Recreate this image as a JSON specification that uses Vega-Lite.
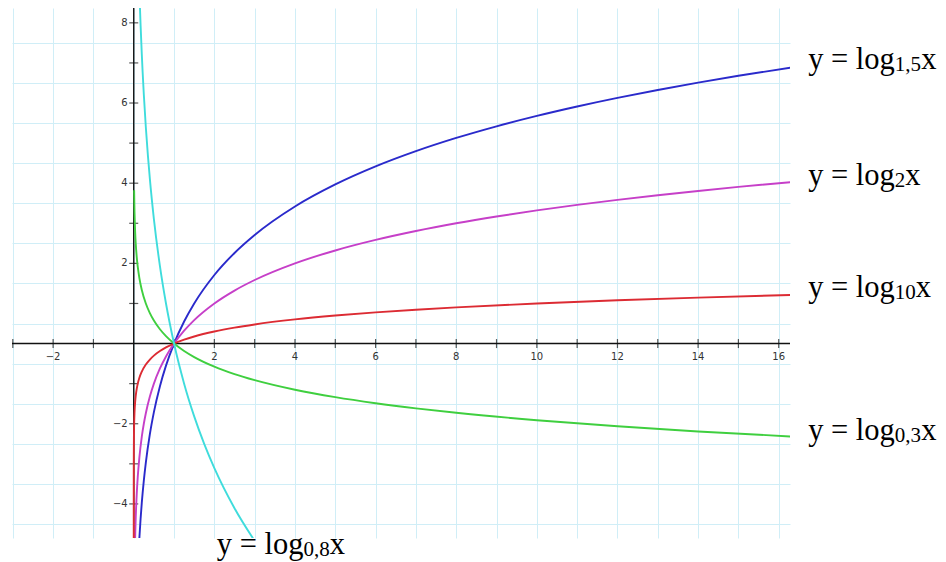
{
  "$schema": "https://vega.github.io/schema/vega-lite/v6.json",
  "width": 778,
  "height": 530,
  "autosize": {"type": "none"},
  "padding": {"left": 12, "top": 8, "right": 156, "bottom": 24},
  "background": "white",
  "config": {"view": {"stroke": null}},
  "datasets": {
    "curves": [
      {"f": "log1.5", "x": 0.1, "y": -5.679}, {"f": "log1.5", "x": 0.12, "y": -5.229}, {"f": "log1.5", "x": 0.14, "y": -4.849}, {"f": "log1.5", "x": 0.17, "y": -4.37}, {"f": "log1.5", "x": 0.2, "y": -3.969}, {"f": "log1.5", "x": 0.25, "y": -3.419}, {"f": "log1.5", "x": 0.3, "y": -2.969}, {"f": "log1.5", "x": 0.4, "y": -2.26}, {"f": "log1.5", "x": 0.5, "y": -1.71}, {"f": "log1.5", "x": 0.65, "y": -1.062}, {"f": "log1.5", "x": 0.8, "y": -0.55}, {"f": "log1.5", "x": 1, "y": 0}, {"f": "log1.5", "x": 1.25, "y": 0.55}, {"f": "log1.5", "x": 1.5, "y": 1.0}, {"f": "log1.5", "x": 2, "y": 1.71}, {"f": "log1.5", "x": 2.5, "y": 2.26}, {"f": "log1.5", "x": 3, "y": 2.709}, {"f": "log1.5", "x": 4, "y": 3.419}, {"f": "log1.5", "x": 5, "y": 3.969}, {"f": "log1.5", "x": 6, "y": 4.419}, {"f": "log1.5", "x": 7, "y": 4.799}, {"f": "log1.5", "x": 8, "y": 5.129}, {"f": "log1.5", "x": 9, "y": 5.419}, {"f": "log1.5", "x": 10, "y": 5.679}, {"f": "log1.5", "x": 11, "y": 5.914}, {"f": "log1.5", "x": 12, "y": 6.129}, {"f": "log1.5", "x": 13, "y": 6.326}, {"f": "log1.5", "x": 14, "y": 6.509}, {"f": "log1.5", "x": 15, "y": 6.679}, {"f": "log1.5", "x": 16.3, "y": 6.884},

      {"f": "log2", "x": 0.02, "y": -5.644}, {"f": "log2", "x": 0.03, "y": -5.059}, {"f": "log2", "x": 0.04, "y": -4.644}, {"f": "log2", "x": 0.05, "y": -4.322}, {"f": "log2", "x": 0.06, "y": -4.059}, {"f": "log2", "x": 0.075, "y": -3.737}, {"f": "log2", "x": 0.1, "y": -3.322}, {"f": "log2", "x": 0.14, "y": -2.837}, {"f": "log2", "x": 0.2, "y": -2.322}, {"f": "log2", "x": 0.25, "y": -2}, {"f": "log2", "x": 0.3, "y": -1.737}, {"f": "log2", "x": 0.4, "y": -1.322}, {"f": "log2", "x": 0.5, "y": -1}, {"f": "log2", "x": 0.65, "y": -0.6215}, {"f": "log2", "x": 0.8, "y": -0.3219}, {"f": "log2", "x": 1, "y": 0}, {"f": "log2", "x": 1.25, "y": 0.3219}, {"f": "log2", "x": 1.5, "y": 0.585}, {"f": "log2", "x": 2, "y": 1}, {"f": "log2", "x": 2.5, "y": 1.322}, {"f": "log2", "x": 3, "y": 1.585}, {"f": "log2", "x": 4, "y": 2}, {"f": "log2", "x": 5, "y": 2.322}, {"f": "log2", "x": 6, "y": 2.585}, {"f": "log2", "x": 7, "y": 2.807}, {"f": "log2", "x": 8, "y": 3}, {"f": "log2", "x": 9, "y": 3.17}, {"f": "log2", "x": 10, "y": 3.322}, {"f": "log2", "x": 11, "y": 3.459}, {"f": "log2", "x": 12, "y": 3.585}, {"f": "log2", "x": 13, "y": 3.7}, {"f": "log2", "x": 14, "y": 3.807}, {"f": "log2", "x": 15, "y": 3.907}, {"f": "log2", "x": 16.3, "y": 4.027},

      {"f": "log10", "x": 0.00001, "y": -5}, {"f": "log10", "x": 0.00002, "y": -4.699}, {"f": "log10", "x": 0.00005, "y": -4.301}, {"f": "log10", "x": 0.0001, "y": -4}, {"f": "log10", "x": 0.0002, "y": -3.699}, {"f": "log10", "x": 0.0005, "y": -3.301}, {"f": "log10", "x": 0.001, "y": -3}, {"f": "log10", "x": 0.002, "y": -2.699}, {"f": "log10", "x": 0.005, "y": -2.301}, {"f": "log10", "x": 0.01, "y": -2}, {"f": "log10", "x": 0.02, "y": -1.699}, {"f": "log10", "x": 0.035, "y": -1.456}, {"f": "log10", "x": 0.05, "y": -1.301}, {"f": "log10", "x": 0.075, "y": -1.125}, {"f": "log10", "x": 0.1, "y": -1}, {"f": "log10", "x": 0.14, "y": -0.854}, {"f": "log10", "x": 0.2, "y": -0.699}, {"f": "log10", "x": 0.3, "y": -0.523}, {"f": "log10", "x": 0.4, "y": -0.398}, {"f": "log10", "x": 0.5, "y": -0.301}, {"f": "log10", "x": 0.65, "y": -0.187}, {"f": "log10", "x": 0.8, "y": -0.097}, {"f": "log10", "x": 1, "y": 0}, {"f": "log10", "x": 1.25, "y": 0.097}, {"f": "log10", "x": 1.5, "y": 0.176}, {"f": "log10", "x": 2, "y": 0.301}, {"f": "log10", "x": 2.5, "y": 0.398}, {"f": "log10", "x": 3, "y": 0.477}, {"f": "log10", "x": 4, "y": 0.602}, {"f": "log10", "x": 5, "y": 0.699}, {"f": "log10", "x": 6, "y": 0.778}, {"f": "log10", "x": 7, "y": 0.845}, {"f": "log10", "x": 8, "y": 0.903}, {"f": "log10", "x": 10, "y": 1}, {"f": "log10", "x": 12, "y": 1.079}, {"f": "log10", "x": 14, "y": 1.146}, {"f": "log10", "x": 16.3, "y": 1.212},

      {"f": "log0.3", "x": 0.01, "y": 3.825}, {"f": "log0.3", "x": 0.015, "y": 3.488}, {"f": "log0.3", "x": 0.02, "y": 3.249}, {"f": "log0.3", "x": 0.035, "y": 2.784}, {"f": "log0.3", "x": 0.05, "y": 2.488}, {"f": "log0.3", "x": 0.075, "y": 2.151}, {"f": "log0.3", "x": 0.1, "y": 1.912}, {"f": "log0.3", "x": 0.14, "y": 1.633}, {"f": "log0.3", "x": 0.2, "y": 1.337}, {"f": "log0.3", "x": 0.3, "y": 1}, {"f": "log0.3", "x": 0.4, "y": 0.761}, {"f": "log0.3", "x": 0.5, "y": 0.576}, {"f": "log0.3", "x": 0.65, "y": 0.358}, {"f": "log0.3", "x": 0.8, "y": 0.185}, {"f": "log0.3", "x": 1, "y": 0}, {"f": "log0.3", "x": 1.25, "y": -0.185}, {"f": "log0.3", "x": 1.5, "y": -0.337}, {"f": "log0.3", "x": 2, "y": -0.576}, {"f": "log0.3", "x": 2.5, "y": -0.761}, {"f": "log0.3", "x": 3, "y": -0.912}, {"f": "log0.3", "x": 4, "y": -1.151}, {"f": "log0.3", "x": 5, "y": -1.337}, {"f": "log0.3", "x": 6, "y": -1.488}, {"f": "log0.3", "x": 7, "y": -1.616}, {"f": "log0.3", "x": 8, "y": -1.727}, {"f": "log0.3", "x": 10, "y": -1.912}, {"f": "log0.3", "x": 12, "y": -2.064}, {"f": "log0.3", "x": 14, "y": -2.192}, {"f": "log0.3", "x": 16.3, "y": -2.318},

      {"f": "log0.8", "x": 0.14, "y": 8.811}, {"f": "log0.8", "x": 0.15, "y": 8.502}, {"f": "log0.8", "x": 0.17, "y": 7.941}, {"f": "log0.8", "x": 0.2, "y": 7.213}, {"f": "log0.8", "x": 0.22, "y": 6.785}, {"f": "log0.8", "x": 0.25, "y": 6.213}, {"f": "log0.8", "x": 0.3, "y": 5.396}, {"f": "log0.8", "x": 0.35, "y": 4.705}, {"f": "log0.8", "x": 0.4, "y": 4.106}, {"f": "log0.8", "x": 0.5, "y": 3.106}, {"f": "log0.8", "x": 0.65, "y": 1.931}, {"f": "log0.8", "x": 0.8, "y": 1.0}, {"f": "log0.8", "x": 1, "y": 0}, {"f": "log0.8", "x": 1.25, "y": -1.0}, {"f": "log0.8", "x": 1.5, "y": -1.817}, {"f": "log0.8", "x": 1.75, "y": -2.508}, {"f": "log0.8", "x": 2, "y": -3.106}, {"f": "log0.8", "x": 2.5, "y": -4.106}, {"f": "log0.8", "x": 3, "y": -4.923}
    ],
    "xticks": [
      {"v": -3}, {"v": -2}, {"v": -1}, {"v": 1}, {"v": 2}, {"v": 3}, {"v": 4}, {"v": 5}, {"v": 6}, {"v": 7}, {"v": 8}, {"v": 9}, {"v": 10}, {"v": 11}, {"v": 12}, {"v": 13}, {"v": 14}, {"v": 15}, {"v": 16}
    ],
    "yticks": [
      {"v": -4}, {"v": -3}, {"v": -2}, {"v": -1}, {"v": 1}, {"v": 2}, {"v": 3}, {"v": 4}, {"v": 5}, {"v": 6}, {"v": 7}, {"v": 8}
    ],
    "origin": [{"v": 0}],
    "labels": [
      {"f": "log1.5", "x": 16.73, "y": 6.837, "base": "1,5"},
      {"f": "log2", "x": 16.73, "y": 3.956, "base": "2"},
      {"f": "log10", "x": 16.73, "y": 1.17, "base": "10"},
      {"f": "log0.3", "x": 16.73, "y": -2.404, "base": "0,3"},
      {"f": "log0.8", "x": 2.06, "y": -5.248, "base": "0,8"}
    ]
  },
  "layer": [
    {
      "data": {"name": "xticks"},
      "mark": {"type": "rule", "opacity": 0},
      "encoding": {
        "x": {"field": "v", "type": "quantitative", "scale": {"domain": [-3.02, 16.28], "nice": false, "zero": false},
          "axis": {"values": [-3, -2.5, -2, -1.5, -1, -0.5, 0, 0.5, 1, 1.5, 2, 2.5, 3, 3.5, 4, 4.5, 5, 5.5, 6, 6.5, 7, 7.5, 8, 8.5, 9, 9.5, 10, 10.5, 11, 11.5, 12, 12.5, 13, 13.5, 14, 14.5, 15, 15.5, 16],
            "grid": true, "gridColor": "#d0eef7", "gridWidth": 1, "labels": false, "ticks": false, "domain": false, "title": null}},
        "y": {"datum": 0, "type": "quantitative", "scale": {"domain": [-4.85, 8.37], "nice": false, "zero": false},
          "axis": {"values": [-4.5, -4, -3.5, -3, -2.5, -2, -1.5, -1, -0.5, 0, 0.5, 1, 1.5, 2, 2.5, 3, 3.5, 4, 4.5, 5, 5.5, 6, 6.5, 7, 7.5, 8],
            "grid": true, "gridColor": "#d0eef7", "gridWidth": 1, "labels": false, "ticks": false, "domain": false, "title": null}}
      }
    },
    {
      "data": {"name": "origin"},
      "mark": {"type": "rule", "color": "#111111", "strokeWidth": 1.4},
      "encoding": {
        "x": {"field": "v", "type": "quantitative", "scale": {"domain": [-3.02, 16.28], "nice": false, "zero": false}}
      }
    },
    {
      "data": {"name": "origin"},
      "mark": {"type": "rule", "color": "#111111", "strokeWidth": 1.4},
      "encoding": {
        "y": {"field": "v", "type": "quantitative", "scale": {"domain": [-4.85, 8.37], "nice": false, "zero": false}}
      }
    },
    {
      "data": {"name": "xticks"},
      "mark": {"type": "tick", "orient": "vertical", "size": 9, "thickness": 1.2, "color": "#111111"},
      "encoding": {
        "x": {"field": "v", "type": "quantitative", "scale": {"domain": [-3.02, 16.28], "nice": false, "zero": false}},
        "y": {"datum": 0, "type": "quantitative", "scale": {"domain": [-4.85, 8.37], "nice": false, "zero": false}}
      }
    },
    {
      "data": {"name": "yticks"},
      "mark": {"type": "tick", "orient": "horizontal", "size": 9, "thickness": 1.2, "color": "#111111"},
      "encoding": {
        "y": {"field": "v", "type": "quantitative", "scale": {"domain": [-4.85, 8.37], "nice": false, "zero": false}},
        "x": {"datum": 0, "type": "quantitative", "scale": {"domain": [-3.02, 16.28], "nice": false, "zero": false}}
      }
    },
    {
      "data": {"name": "xticks"},
      "transform": [{"filter": "datum.v % 2 == 0"}],
      "mark": {"type": "text", "font": "DejaVu Sans", "fontSize": 10, "color": "#333333", "align": "center", "baseline": "middle", "dy": 13},
      "encoding": {
        "x": {"field": "v", "type": "quantitative", "scale": {"domain": [-3.02, 16.28], "nice": false, "zero": false}},
        "y": {"datum": 0, "type": "quantitative", "scale": {"domain": [-4.85, 8.37], "nice": false, "zero": false}},
        "text": {"field": "v", "type": "quantitative", "format": "d"}
      }
    },
    {
      "data": {"name": "yticks"},
      "transform": [{"filter": "datum.v % 2 == 0"}],
      "mark": {"type": "text", "font": "DejaVu Sans", "fontSize": 10, "color": "#333333", "align": "right", "baseline": "middle", "dx": -6},
      "encoding": {
        "y": {"field": "v", "type": "quantitative", "scale": {"domain": [-4.85, 8.37], "nice": false, "zero": false}},
        "x": {"datum": 0, "type": "quantitative", "scale": {"domain": [-3.02, 16.28], "nice": false, "zero": false}},
        "text": {"field": "v", "type": "quantitative", "format": "d"}
      }
    },
    {
      "data": {"name": "curves"},
      "mark": {"type": "line", "clip": true, "interpolate": "monotone", "strokeWidth": 1.9},
      "encoding": {
        "x": {"field": "x", "type": "quantitative", "scale": {"domain": [-3.02, 16.28], "nice": false, "zero": false}},
        "y": {"field": "y", "type": "quantitative", "scale": {"domain": [-4.85, 8.37], "nice": false, "zero": false}},
        "color": {"field": "f", "type": "nominal",
          "scale": {"domain": ["log1.5", "log2", "log10", "log0.3", "log0.8"], "range": ["#2a2acb", "#c63fc8", "#dc2b33", "#3fcf3f", "#3fdcdc"]},
          "legend": null},
        "order": {"field": "x", "type": "quantitative"}
      }
    },
    {
      "data": {"name": "labels"},
      "mark": {"type": "text", "text": "y = log", "font": "Liberation Serif", "fontSize": 30.5, "color": "#000000", "align": "left", "baseline": "alphabetic"},
      "encoding": {
        "x": {"field": "x", "type": "quantitative", "scale": {"domain": [-3.02, 16.28], "nice": false, "zero": false}},
        "y": {"field": "y", "type": "quantitative", "scale": {"domain": [-4.85, 8.37], "nice": false, "zero": false}}
      }
    },
    {
      "data": {"name": "labels"},
      "mark": {"type": "text", "font": "Liberation Serif", "fontSize": 21, "color": "#000000", "align": "left", "baseline": "alphabetic", "dx": 86.7, "dy": 2},
      "encoding": {
        "x": {"field": "x", "type": "quantitative", "scale": {"domain": [-3.02, 16.28], "nice": false, "zero": false}},
        "y": {"field": "y", "type": "quantitative", "scale": {"domain": [-4.85, 8.37], "nice": false, "zero": false}},
        "text": {"field": "base"}
      }
    },
    {
      "data": {"name": "labels"},
      "transform": [{"filter": "length(datum.base) == 3"}],
      "mark": {"type": "text", "text": "x", "font": "Liberation Serif", "fontSize": 30.5, "color": "#000000", "align": "left", "baseline": "alphabetic", "dx": 113},
      "encoding": {
        "x": {"field": "x", "type": "quantitative", "scale": {"domain": [-3.02, 16.28], "nice": false, "zero": false}},
        "y": {"field": "y", "type": "quantitative", "scale": {"domain": [-4.85, 8.37], "nice": false, "zero": false}}
      }
    },
    {
      "data": {"name": "labels"},
      "transform": [{"filter": "length(datum.base) == 2"}],
      "mark": {"type": "text", "text": "x", "font": "Liberation Serif", "fontSize": 30.5, "color": "#000000", "align": "left", "baseline": "alphabetic", "dx": 107.7},
      "encoding": {
        "x": {"field": "x", "type": "quantitative", "scale": {"domain": [-3.02, 16.28], "nice": false, "zero": false}},
        "y": {"field": "y", "type": "quantitative", "scale": {"domain": [-4.85, 8.37], "nice": false, "zero": false}}
      }
    },
    {
      "data": {"name": "labels"},
      "transform": [{"filter": "length(datum.base) == 1"}],
      "mark": {"type": "text", "text": "x", "font": "Liberation Serif", "fontSize": 30.5, "color": "#000000", "align": "left", "baseline": "alphabetic", "dx": 97.2},
      "encoding": {
        "x": {"field": "x", "type": "quantitative", "scale": {"domain": [-3.02, 16.28], "nice": false, "zero": false}},
        "y": {"field": "y", "type": "quantitative", "scale": {"domain": [-4.85, 8.37], "nice": false, "zero": false}}
      }
    }
  ]
}
